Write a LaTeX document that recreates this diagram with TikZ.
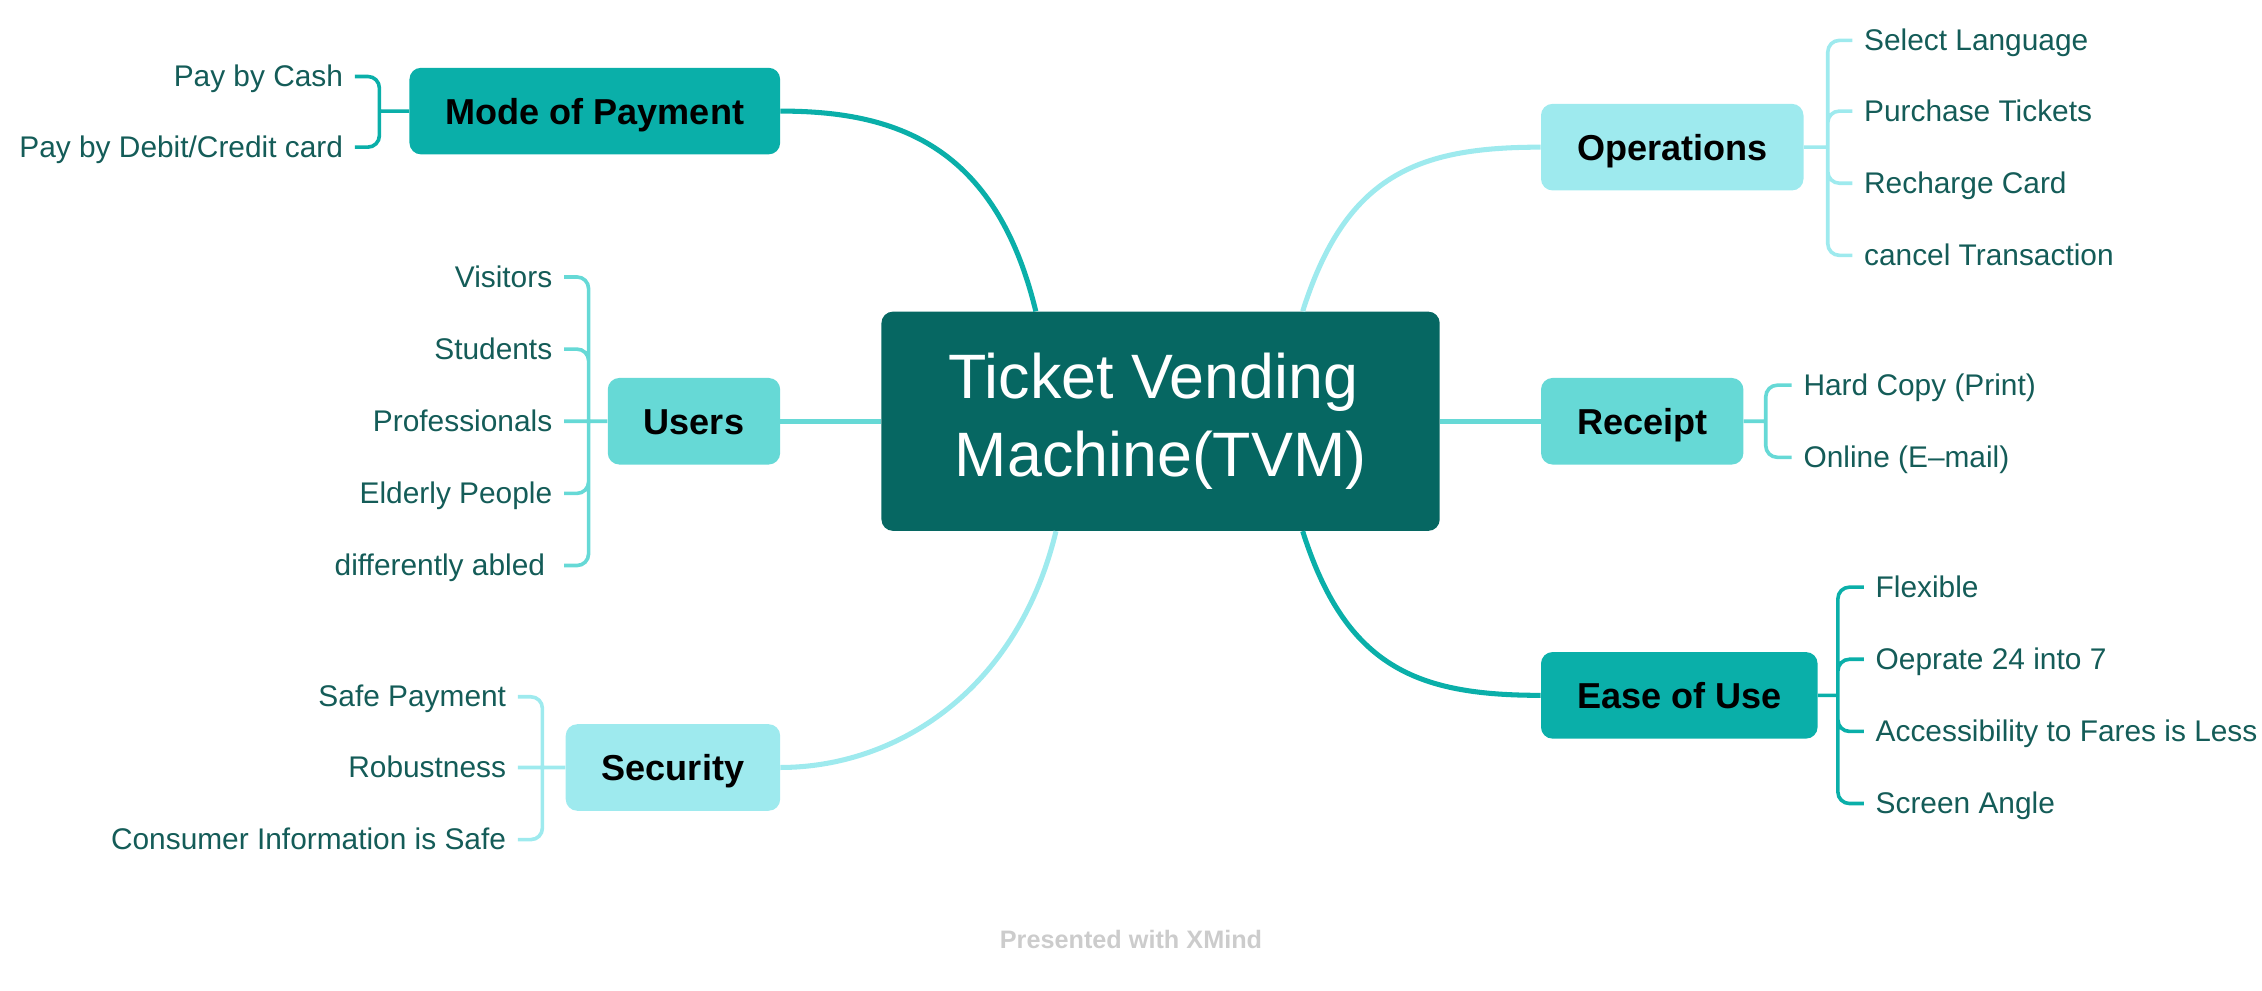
\documentclass[tikz,border=0pt]{standalone}
\usepackage{fontspec}
\setmainfont{Liberation Sans}
\usetikzlibrary{positioning}

\definecolor{tvmdark}{HTML}{066762}
\definecolor{branchteal}{HTML}{0AAFA9}
\definecolor{branchmid}{HTML}{66D9D6}
\definecolor{branchlight}{HTML}{9EEAEE}
\definecolor{leaftext}{HTML}{145C58}

\tikzset{
  topic/.style={rounded corners=8pt, minimum height=60pt, inner xsep=25pt, text height=18pt, text depth=0pt, font=\bfseries\fontsize{25}{30}\selectfont, text=black},
  leaf/.style={inner xsep=8pt, inner ysep=2pt, text height=16pt, text depth=2pt, text=leaftext, font=\fontsize{20.7}{24}\selectfont},
  branch/.style={line width=3.5pt},
  bracket/.style={line width=2.5pt, rounded corners=8pt},
}

\begin{document}
\begin{tikzpicture}[x=1pt, y=-1pt]
            \useasboundingbox (0,0) rectangle (1568,686.3);
            % central topic
            \node [fill=tvmdark, rounded corners=8pt, minimum width=387pt, minimum height=152pt, align=center, text=white, font=\fontsize{43.5}{54}\selectfont] (tvm) at (804.5,292) {Ticket Vending\hspace*{10pt}\\Machine(TVM)};
            % main topics
            \node [topic, fill=branchteal, anchor=east] (mop) at (541,77) {Mode of Payment};
            \node [topic, fill=branchmid, anchor=east] (users) at (541,292) {Users};
            \node [topic, fill=branchlight, anchor=east] (security) at (541,532) {Security};
            \node [topic, fill=branchlight, anchor=west] (operations) at (1068,102) {Operations};
            \node [topic, fill=branchmid, anchor=west] (receipt) at (1068,292) {Receipt};
            \node [topic, fill=branchteal, anchor=west] (ease) at (1068,482) {Ease of Use};
            \draw [branch, branchteal] ([xshift=-86.5pt]tvm.north) .. controls +(-28,-116) and +(79,0) .. (mop.east);
            \draw [branch, branchmid] (tvm.west) -- (users.east);
            \draw [branch, branchlight] ([xshift=-72.5pt]tvm.south) .. controls +(-27,112) and +(79,0) .. (security.east);
            \draw [branch, branchlight] ([xshift=98.5pt]tvm.north) .. controls +(30,-95) and +(-85,0) .. (operations.west);
            \draw [branch, branchmid] (tvm.east) -- (receipt.west);
            \draw [branch, branchteal] ([xshift=98.5pt]tvm.south) .. controls +(30,95) and +(-85,0) .. (ease.west);
            % subtopics, left side
            \node [leaf, anchor=east] (cash) at (246,53) {Pay by Cash};
            \node [leaf, anchor=east] (card) at (246,102) {Pay by Debit/Credit card};
            \coordinate (mopj) at (263,77);
            \draw [bracket, branchteal] (mop.west) -- (mopj) (mopj) |- (cash.east) (mopj) |- (card.east);
            \node [leaf, anchor=east] (visitors) at (391,192) {Visitors};
            \node [leaf, anchor=east] (students) at (391,242) {Students};
            \node [leaf, anchor=east] (professionals) at (391,292) {Professionals};
            \node [leaf, anchor=east] (elderly) at (391,342) {Elderly People};
            \node [leaf, anchor=east] (abled) at (391,392) {differently abled\hspace*{5pt}};
            \coordinate (usersj) at (408,292);
            \draw [bracket, branchmid] (users.west) -- (usersj) (usersj) |- (visitors.east) (usersj) |- (students.east) (usersj) -- (professionals.east) (usersj) |- (elderly.east) (usersj) |- (abled.east);
            \node [leaf, anchor=east] (safepay) at (359,483) {Safe Payment};
            \node [leaf, anchor=east] (robust) at (359,532) {Robustness};
            \node [leaf, anchor=east] (consumer) at (359,582) {Consumer Information is Safe};
            \coordinate (securityj) at (376,532);
            \draw [bracket, branchlight] (security.west) -- (securityj) (securityj) |- (safepay.east) (securityj) -- (robust.east) (securityj) |- (consumer.east);
            % subtopics, right side
            \node [leaf, anchor=west] (language) at (1284,28) {Select Language};
            \node [leaf, anchor=west] (purchase) at (1284,77) {Purchase Tickets};
            \node [leaf, anchor=west] (recharge) at (1284,127) {Recharge Card};
            \node [leaf, anchor=west] (cancel) at (1284,177) {cancel Transaction};
            \coordinate (operationsj) at (1267,102);
            \draw [bracket, branchlight] (operations.east) -- (operationsj) (operationsj) |- (language.west) (operationsj) |- (purchase.west) (operationsj) |- (recharge.west) (operationsj) |- (cancel.west);
            \node [leaf, anchor=west] (hardcopy) at (1242,267) {Hard Copy (Print)};
            \node [leaf, anchor=west] (online) at (1242,317) {Online (E–mail)};
            \coordinate (receiptj) at (1224,292);
            \draw [bracket, branchmid] (receipt.east) -- (receiptj) (receiptj) |- (hardcopy.west) (receiptj) |- (online.west);
            \node [leaf, anchor=west] (flexible) at (1292,407) {Flexible};
            \node [leaf, anchor=west] (operate) at (1292,457) {Oeprate 24 into 7};
            \node [leaf, anchor=west] (fares) at (1292,507) {Accessibility to Fares is Less};
            \node [leaf, anchor=west] (angle) at (1292,557) {Screen Angle};
            \coordinate (easej) at (1274,482);
            \draw [bracket, branchteal] (ease.east) -- (easej) (easej) |- (flexible.west) (easej) |- (operate.west) (easej) |- (fares.west) (easej) |- (angle.west);
            % footer
            \node [text=black!20, font=\bfseries\fontsize{17.5}{20}\selectfont] (credit) at (784,651) {Presented with XMind};
\end{tikzpicture}
\end{document}
